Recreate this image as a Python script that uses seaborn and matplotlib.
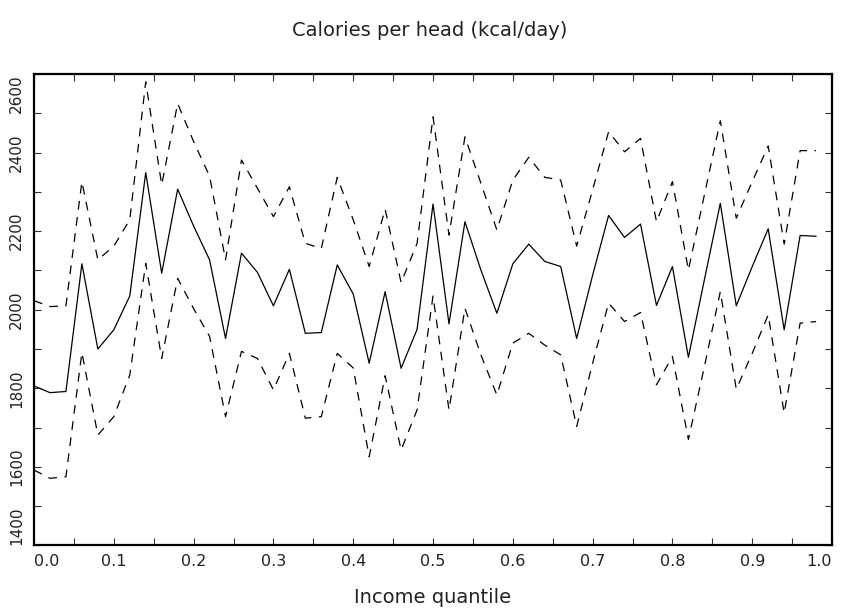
import numpy as np
import pandas as pd
import matplotlib
matplotlib.use("Agg")
import matplotlib.pyplot as plt
from matplotlib.ticker import MultipleLocator
import seaborn as sns

# --- DATA ---
quantile = [0.00, 0.02, 0.04, 0.06, 0.08, 0.10, 0.12, 0.14, 0.16, 0.18,
            0.20, 0.22, 0.24, 0.26, 0.28, 0.30, 0.32, 0.34, 0.36, 0.38,
            0.40, 0.42, 0.44, 0.46, 0.48, 0.50, 0.52, 0.54, 0.56, 0.58,
            0.60, 0.62, 0.64, 0.66, 0.68, 0.70, 0.72, 0.74, 0.76, 0.78,
            0.80, 0.82, 0.84, 0.86, 0.88, 0.90, 0.92, 0.94, 0.96, 0.98]

kcal_mean = [1806, 1789, 1792, 2117, 1900, 1949, 2035, 2349, 2093, 2307,
             2213, 2127, 1927, 2144, 2095, 2010, 2103, 1940, 1942, 2114,
             2040, 1864, 2046, 1851, 1950, 2269, 1964, 2224, 2101, 1991,
             2117, 2167, 2123, 2110, 1927, 2088, 2240, 2184, 2218, 2011,
             2110, 1879, 2076, 2271, 2010, 2110, 2206, 1949, 2189, 2187]

kcal_upper = [2023, 2008, 2010, 2326, 2127, 2162, 2229, 2580, 2318, 2525,
              2428, 2340, 2127, 2381, 2309, 2237, 2313, 2169, 2156, 2337,
              2229, 2110, 2256, 2069, 2169, 2491, 2190, 2440, 2322, 2203,
              2330, 2388, 2337, 2330, 2162, 2305, 2453, 2402, 2436, 2224,
              2326, 2101, 2292, 2481, 2233, 2326, 2417, 2167, 2405, 2405]

kcal_lower = [1592, 1571, 1575, 1891, 1681, 1728, 1834, 2118, 1876, 2080,
              2003, 1932, 1728, 1894, 1876, 1796, 1889, 1724, 1728, 1889,
              1852, 1626, 1832, 1643, 1745, 2035, 1745, 2004, 1885, 1783,
              1915, 1940, 1910, 1885, 1703, 1864, 2017, 1970, 1993, 1809,
              1881, 1670, 1855, 2046, 1798, 1889, 1987, 1737, 1966, 1970]

x_ticks = [0.0, 0.1, 0.2, 0.3, 0.4, 0.5, 0.6, 0.7, 0.8, 0.9, 1.0]
y_ticks = [1400, 1600, 1800, 2000, 2200, 2400, 2600]

df = pd.DataFrame({"quantile": quantile, "mean": kcal_mean,
                   "upper": kcal_upper, "lower": kcal_lower})

sns.set_style("white")
plt.rcParams['font.family'] = ['DejaVu Sans']

fig = plt.figure(figsize=(8.46, 6.08), dpi=100)
ax = fig.add_axes([0.0402, 0.1028, 0.9433, 0.7755])

dash = (0, (7, 6))
sns.lineplot(data=df, x="quantile", y="upper", ax=ax, color="black", lw=0.9, linestyle=dash)
sns.lineplot(data=df, x="quantile", y="lower", ax=ax, color="black", lw=0.9, linestyle=dash)
sns.lineplot(data=df, x="quantile", y="mean", ax=ax, color="black", lw=0.9)

ax.set_xlim(0, 1.0)
ax.set_ylim(1400, 2600)

for s in ax.spines.values():
    s.set_linewidth(1.6)
    s.set_color("black")

ax.xaxis.set_minor_locator(MultipleLocator(0.05))
ax.yaxis.set_minor_locator(MultipleLocator(100))
ax.tick_params(which="both", direction="in", length=5, width=0.8, color="#333333",
               top=True, right=True, bottom=True, left=True)

ax.set_xticks(x_ticks)
xl = ax.set_xticklabels([f"{v:.1f}" for v in x_ticks], fontsize=11.5, color="#222222")
xl[0].set_ha("left")
xl[-1].set_ha("right")
ax.tick_params(axis="x", pad=6)

ax.set_yticks(y_ticks)
yl = ax.set_yticklabels([str(v) for v in y_ticks], fontsize=11, color="#222222",
                        rotation=90, va="center")
yl[0].set_va("bottom")
yl[-1].set_va("top")
ax.tick_params(axis="y", pad=7)

ax.set_xlabel("Income quantile", fontsize=14, color="#222222", labelpad=14)
ax.set_ylabel("")
fig.text(0.508, 0.95, "Calories per head (kcal/day)", ha="center", va="center",
         fontsize=14, color="#222222")

fig.savefig("out.png", dpi=100)
